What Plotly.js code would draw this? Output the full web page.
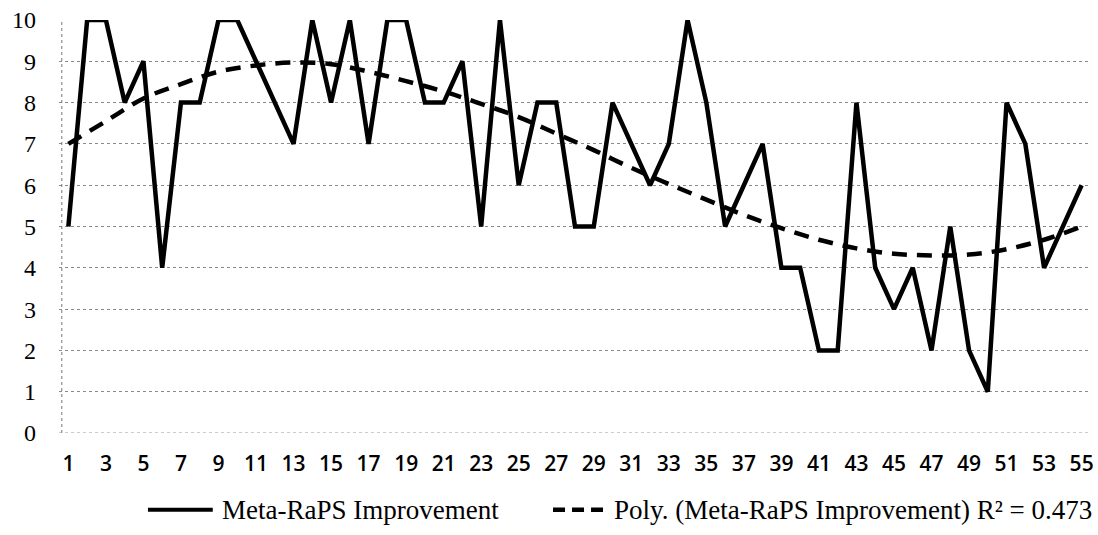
<!DOCTYPE html>
<html>
<head>
<meta charset="utf-8">
<script src="https://cdn.plot.ly/plotly-3.0.1.min.js"></script>
<style>html,body{margin:0;padding:0;background:#fff;}#chart{width:1098px;height:535px;}</style>
</head>
<body>
<div id="chart"></div>
<script>
const runs = Array.from({length: 55}, (_, i) => i + 1);
const improvement = [5,10,10,8,9,4,8,8,10,10, 9,8,7,10,8,10,7,10,10,8, 8,9,5,10,6,8,8,5,5,8, 7,6,7,10,8,5,6,7,4,4, 2,2,8,4,3,4,2,5,2,1, 8,7,4,5,6];
const trendX = [1,3,5,7,9,11,13,15,17,19,21,23,25,27,29,31,33,35,37,39,41,43,45,47,49,51,53,55];
const trendY = [7.0,7.55,8.1,8.45,8.75,8.9,8.97,8.93,8.75,8.52,8.27,7.97,7.65,7.25,6.85,6.42,6.03,5.65,5.28,4.96,4.68,4.47,4.34,4.3,4.32,4.45,4.68,5.0];
const xTickVals = [1,3,5,7,9,11,13,15,17,19,21,23,25,27,29,31,33,35,37,39,41,43,45,47,49,51,53,55];
const yTickVals = [0,1,2,3,4,5,6,7,8,9,10];
const seriesName = 'Meta-RaPS Improvement';
const trendName = 'Poly. (Meta-RaPS Improvement) R² = 0.473';

const traces = [
  {x: runs, y: improvement, type: 'scatter', mode: 'lines', name: seriesName,
   line: {color: '#000', width: 4.5}},
  {x: trendX, y: trendY, type: 'scatter', mode: 'lines', name: trendName,
   line: {color: '#000', width: 4.5, dash: '15px,10px', shape: 'spline'}}
];

const legendFont = {family: 'Liberation Serif, serif', size: 27, color: '#000'};
const legY = -0.186;

const layout = {
  width: 1098, height: 535,
  margin: {l: 59, r: 7, t: 20, b: 102},
  paper_bgcolor: '#fff', plot_bgcolor: '#fff',
  showlegend: false,
  xaxis: {range: [0.5, 55.5], tickvals: xTickVals, ticktext: xTickVals.map(String),
          showgrid: false, zeroline: false, showline: false, ticks: '',
          tickfont: {family: 'Open Sans, sans-serif', size: 21, color: '#000', weight: 600},
          ticklabelstandoff: 16},
  yaxis: {range: [0, 10], tickvals: yTickVals, showgrid: true, gridcolor: '#8a8a8a',
          griddash: 'dot', gridwidth: 1, zeroline: false, showline: false, ticks: '',
          tickfont: {family: 'Liberation Serif, serif', size: 24, color: '#000'},
          ticklabelstandoff: 22},
  shapes: [
    {type: 'line', xref: 'x', yref: 'paper', x0: 0.65, x1: 0.65, y0: 0, y1: 1,
     line: {color: '#777', width: 1, dash: 'dot'}},
    {type: 'line', xref: 'paper', yref: 'y', x0: 0, x1: 1, y0: 0, y1: 0,
     line: {color: '#999', width: 1, dash: 'dot'}},
    {type: 'line', xref: 'paper', yref: 'paper', x0: 0.0862, x1: 0.149, y0: legY, y1: legY,
     line: {color: '#000', width: 4}},
    {type: 'line', xref: 'paper', yref: 'paper', x0: 0.4787, x1: 0.529, y0: legY, y1: legY,
     line: {color: '#000', width: 4.5, dash: '12px,7px'}}
  ],
  annotations: [
    {xref: 'paper', yref: 'paper', x: 0.156, y: legY, xanchor: 'left', yanchor: 'middle',
     text: seriesName, showarrow: false, font: legendFont},
    {xref: 'paper', yref: 'paper', x: 0.5359, y: legY, xanchor: 'left', yanchor: 'middle',
     text: trendName, showarrow: false, font: legendFont}
  ]
};

Plotly.newPlot('chart', traces, layout, {displayModeBar: false, staticPlot: true});
</script>
</body>
</html>
